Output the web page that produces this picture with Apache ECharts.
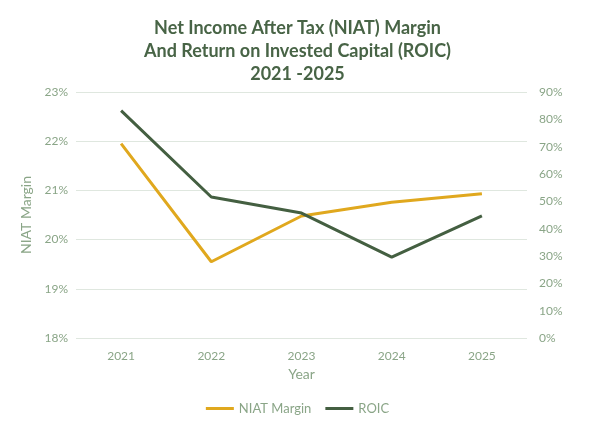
<!DOCTYPE html>
<html style="height: 100%">
<head>
  <meta charset="utf-8">
  <title>demo</title>
  <script src="https://cdn.jsdelivr.net/npm/echarts@6/dist/echarts.min.js"></script>
</head>
<body style="height: 100%; margin: 0">
<div id="container" style="height: 436px; width: 595px; background: #fff"></div>
<script type="text/javascript">
  var years = ['2021', '2022', '2023', '2024', '2025'];
  var niatMargin = [21.95, 19.55, 20.48, 20.76, 20.93];
  var roic = [83.2, 51.6, 45.7, 29.6, 44.7];

  var labelColor = '#8aa587';
  var font = 'Lato, "Open Sans", sans-serif';

  var myChart = echarts.init(document.getElementById('container'));
  var option = {
    title: {
      text: 'Net Income After Tax (NIAT) Margin\nAnd Return on Invested Capital (ROIC)\n2021 -2025',
      left: 'center',
      top: 12,
      textStyle: {
        color: '#486446',
        fontSize: 18,
        fontWeight: 'bold',
        lineHeight: 23,
        fontFamily: font
      }
    },
    legend: {
      bottom: 16,
      left: 'center',
      itemWidth: 28,
      itemGap: 14,
      icon: 'path://M0,0 L28,0 L28,3 L0,3 Z',
      textStyle: { color: labelColor, fontSize: 13, fontFamily: font },
      data: ['NIAT Margin', 'ROIC']
    },
    grid: { left: 76, right: 68, top: 92, bottom: 98 },
    xAxis: {
      type: 'category',
      data: years,
      name: 'Year',
      nameLocation: 'middle',
      nameGap: 29,
      nameTextStyle: { color: labelColor, fontSize: 14, fontFamily: font },
      axisLine: { show: false },
      axisTick: { show: false },
      axisLabel: { color: labelColor, fontSize: 12, margin: 12, fontFamily: font }
    },
    yAxis: [
      {
        type: 'value',
        min: 18, max: 23, interval: 1,
        name: 'NIAT Margin',
        nameLocation: 'middle',
        nameGap: 36,
        nameTextStyle: { color: labelColor, fontSize: 14, fontFamily: font },
        axisLabel: { color: labelColor, fontSize: 12, formatter: '{value}%', fontFamily: font },
        splitLine: { lineStyle: { color: '#dfe7df' } }
      },
      {
        type: 'value',
        min: 0, max: 90, interval: 10,
        axisLabel: { color: labelColor, fontSize: 12, formatter: '{value}%', margin: 12, fontFamily: font },
        splitLine: { show: false }
      }
    ],
    series: [
      {
        name: 'NIAT Margin',
        type: 'line',
        data: niatMargin,
        yAxisIndex: 0,
        symbol: 'none',
        color: '#e0a81e',
        lineStyle: { width: 3 }
      },
      {
        name: 'ROIC',
        type: 'line',
        data: roic,
        yAxisIndex: 1,
        symbol: 'none',
        color: '#445f41',
        lineStyle: { width: 3 }
      }
    ]
  };
  myChart.setOption(option);
</script>
</body>
</html>
